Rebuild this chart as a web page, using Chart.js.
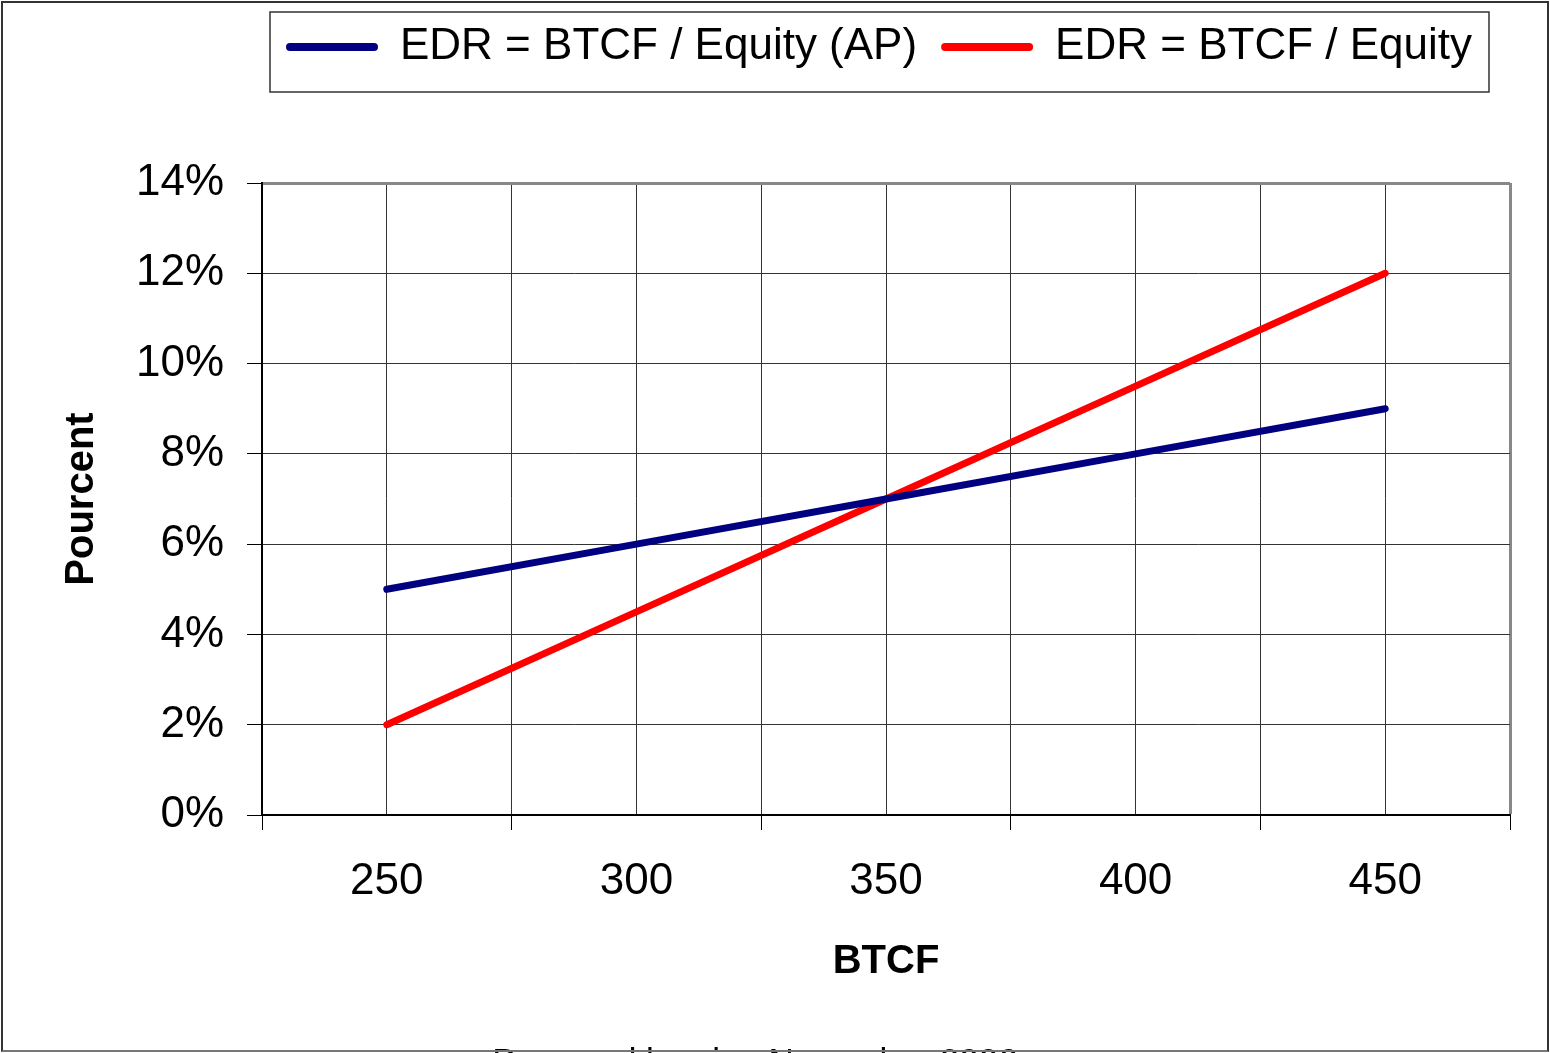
<!DOCTYPE html>
<html>
<head>
<meta charset="utf-8">
<title>EDR vs BTCF</title>
<script src="https://cdn.jsdelivr.net/npm/chart.js@4.4.1/dist/chart.umd.min.js"></script>
<style>
  html, body { margin: 0; padding: 0; background: #fff; overflow: hidden; }
  #wrap { position: relative; width: 1550px; height: 1100px; }
  #frame {
    position: absolute; left: 1px; top: 1px; width: 1548px; height: 1051px;
    box-sizing: border-box; border: 2px solid #333; border-bottom-color: #777;
    pointer-events: none; z-index: 2;
  }
</style>
</head>
<body>
<div id="wrap">
  <canvas id="chart"></canvas>
  <div id="frame"></div>
</div>
<script>
// données
const btcf = [250, 300, 350, 400, 450];
const edrAP = [5, 6, 7, 8, 9];
const edrEquity = [2, 4.5, 7, 9.5, 12];
const seriesNames = ['EDR = BTCF / Equity (AP)', 'EDR = BTCF / Equity'];
const seriesColors = ['#000080', '#ff0000'];
const yTicks = { min: 0, max: 14, step: 2 };
const xTicks = { min: 225, max: 475, step: 25 };
const xTitle = 'BTCF';
const yTitle = 'Pourcent';
const footNote = 'Prepared by aim, November 2006';

Chart.defaults.font.family = '"Liberation Sans", Arial, sans-serif';
Chart.defaults.color = '#000';

// cadre autour de la légende
const legendFrame = {
  id: 'legendFrame',
  afterDraw(chart) {
    const lg = chart.legend;
    if (!lg || !lg.legendHitBoxes || !lg.legendHitBoxes.length) return;
    const hb = lg.legendHitBoxes;
    const last = hb[hb.length - 1];
    const left = hb[0].left - 16;
    const right = last.left + last.width + 17;
    const top = hb[0].top - 13;
    const bottom = hb[0].top + hb[0].height + 23;
    const ctx = chart.ctx;
    ctx.save();
    ctx.strokeStyle = '#333';
    ctx.lineWidth = 1.5;
    ctx.strokeRect(left, top, right - left, bottom - top);
    ctx.restore();
  }
};

function toPoints(values) {
  return btcf.map((x, i) => ({ x: x, y: values[i] }));
}

new Chart(document.getElementById('chart'), {
  type: 'line',
  data: {
    datasets: [
      {
        label: seriesNames[0],
        data: toPoints(edrAP),
        borderColor: seriesColors[0],
        backgroundColor: seriesColors[0],
        borderWidth: 7,
        borderCapStyle: 'round',
        pointRadius: 0,
        tension: 0
      },
      {
        label: seriesNames[1],
        data: toPoints(edrEquity),
        borderColor: seriesColors[1],
        backgroundColor: seriesColors[1],
        borderWidth: 7,
        borderCapStyle: 'round',
        pointRadius: 0,
        tension: 0
      }
    ]
  },
  options: {
    responsive: true,
    maintainAspectRatio: false,
    animation: false,
    layout: { padding: { top: 1, right: 40, bottom: 0, left: 0 } },
    plugins: {
      tooltip: { enabled: false },
      legend: {
        position: 'top',
        align: 'start',
        fullSize: false,
        labels: {
          font: { size: 44 },
          color: '#000',
          boxWidth: 92,
          boxHeight: 8,
          useBorderRadius: true,
          borderRadius: 4,
          padding: 24,
          generateLabels(chart) {
            return Chart.defaults.plugins.legend.labels.generateLabels(chart)
              .map(l => Object.assign(l, { lineWidth: 0 }));
          }
        }
      },
      subtitle: {
        display: true,
        position: 'bottom',
        text: footNote,
        color: '#000',
        font: { size: 35 },
        padding: { top: 42, bottom: 16 }
      }
    },
    scales: {
      x: {
        type: 'linear',
        position: 'bottom',
        min: xTicks.min,
        max: xTicks.max,
        afterFit(s) { s.height = 185; },
        ticks: {
          stepSize: xTicks.step,
          autoSkip: false,
          maxRotation: 0,
          padding: 25,
          font: { size: 44 },
          color: '#000',
          callback: v => (v % 50 === 0 ? String(v) : '')
        },
        grid: {
          color: c => (c.tick && c.tick.value === xTicks.max ? '#888' : '#333'),
          lineWidth: c => (c.tick && c.tick.value === xTicks.max ? 3 : 1),
          tickLength: 15,
          tickWidth: 1,
          tickColor: c => (c.tick && c.tick.value % 50 === 0 ? 'rgba(0,0,0,0)' : '#000')
        },
        border: { display: true, color: '#000', width: 2 },
        title: {
          display: true,
          text: xTitle,
          font: { size: 40, weight: 'bold' },
          color: '#000',
          padding: { top: 0, bottom: 14 }
        }
      },
      spacer: {
        type: 'linear',
        position: 'top',
        display: true,
        afterFit(s) { s.height = 104; },
        ticks: { display: false },
        grid: { display: false, drawTicks: false },
        border: { display: false }
      },
      y: {
        type: 'linear',
        position: 'left',
        min: yTicks.min,
        max: yTicks.max,
        afterFit(s) { s.width = 262; },
        ticks: {
          stepSize: yTicks.step,
          padding: 23,
          font: { size: 44 },
          color: '#000',
          callback: v => v + '%'
        },
        grid: {
          color: c => (c.tick && c.tick.value === yTicks.max ? '#888' : '#333'),
          lineWidth: c => (c.tick && c.tick.value === yTicks.max ? 3 : 1),
          tickLength: 15,
          tickWidth: 1,
          tickColor: '#000'
        },
        border: { display: true, color: '#000', width: 2 },
        title: {
          display: true,
          text: yTitle,
          font: { size: 40, weight: 'bold' },
          color: '#000',
          padding: { top: 58, bottom: 0 }
        }
      }
    }
  },
  plugins: [legendFrame]
});
</script>
</body>
</html>
